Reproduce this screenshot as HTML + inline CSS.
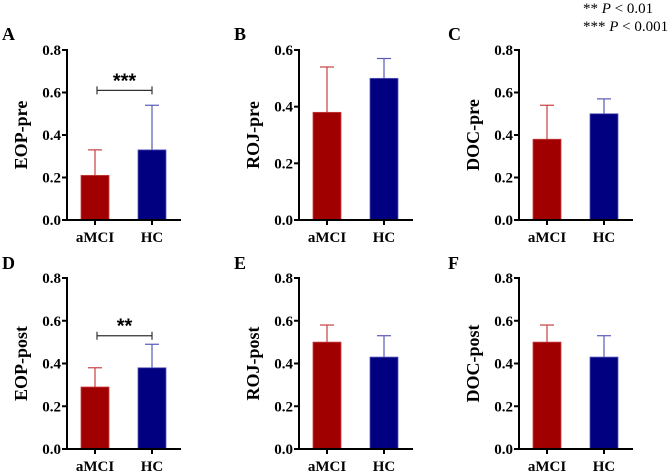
<!DOCTYPE html>
<html><head><meta charset="utf-8"><style>
body{margin:0;background:#fff}
svg{display:block;font-family:"Liberation Serif",serif}
</style></head><body>
<svg id="c" width="669" height="474">
<text x="583" y="13" font-size="15">** <tspan font-style="italic">P</tspan> &lt; 0.01</text>
<text x="583" y="31" font-size="15">*** <tspan font-style="italic">P</tspan> &lt; 0.001</text>
</svg>
<script>
const categories=["aMCI","HC"];
const panelLetters=["A","B","C","D","E","F"];
const yTitles=["EOP-pre","ROJ-pre","DOC-pre","EOP-post","ROJ-post","DOC-post"];
const meanValues=[[0.21,0.33],[0.38,0.50],[0.38,0.50],[0.29,0.38],[0.50,0.43],[0.50,0.43]];
const errTops=[[0.33,0.54],[0.54,0.57],[0.54,0.57],[0.38,0.49],[0.58,0.53],[0.58,0.53]];
const yMaxes=[0.8,0.6,0.8,0.8,0.8,0.8];
const tickLabels=[["0.0","0.2","0.4","0.6","0.8"],["0.0","0.2","0.4","0.6"],["0.0","0.2","0.4","0.6","0.8"],["0.0","0.2","0.4","0.6","0.8"],["0.0","0.2","0.4","0.6","0.8"],["0.0","0.2","0.4","0.6","0.8"]];
const sigMarks=["***","","","**","",""];
const sigHeights=[0.61,0,0,0.53,0,0];
const svg=document.getElementById('c');
const NS='http://www.w3.org/2000/svg';
function mk(t,a,txt){const e=document.createElementNS(NS,t);for(const k in a)e.setAttribute(k,a[k]);if(txt!==undefined)e.textContent=txt;svg.appendChild(e);return e;}
const fills=["#a00000","#000080"],errC=["#c84040","#5a5ab8"];
for(let p=0;p<6;p++){
  const ax=[67,299,519][p%3], y0=p<3?220:449, yTop=p<3?50:278, w=114;
  const ymax=yMaxes[p];
  const Y=v=>y0-(v/ymax)*(y0-yTop);
  const X=i=>ax+28+i*57;
  let e=mk('text',{x:[2,234,448][p%3],y:y0-180,'font-size':18,'font-weight':'bold'},panelLetters[p]);
  
  e=mk('text',{transform:`translate(${ax-40},${(y0+yTop)/2}) rotate(-90)`,'text-anchor':'middle','font-size':18,'font-weight':'bold'},yTitles[p]);
  
  tickLabels[p].forEach(t=>{const v=parseFloat(t);
    e=mk('line',{x1:ax-5,x2:ax,y1:Y(v),y2:Y(v),stroke:'#000','stroke-width':2});
    
    e=mk('text',{x:ax-6,y:Y(v)+5,'text-anchor':'end','font-size':15,'font-weight':'bold'},t);
    });
  categories.forEach((c,i)=>{
    const cx=X(i);
    e=mk('line',{x1:cx,x2:cx,y1:Y(errTops[p][i]),y2:Y(meanValues[p][i]),stroke:errC[i],'stroke-width':1.2});
    
    e=mk('line',{x1:cx-7,x2:cx+7,y1:Y(errTops[p][i]),y2:Y(errTops[p][i]),stroke:errC[i],'stroke-width':1.2});
    
    e=mk('rect',{x:cx-14,y:Y(meanValues[p][i]),width:28,height:y0-Y(meanValues[p][i]),fill:fills[i],stroke:errC[i],'stroke-width':0.8});
    
    e=mk('line',{x1:cx,x2:cx,y1:y0,y2:y0+5,stroke:'#000','stroke-width':2});
    
    e=mk('text',{x:cx,y:y0+22,'text-anchor':'middle','font-size':15,'font-weight':'bold'},c);
    
  });
  e=mk('line',{x1:ax,x2:ax,y1:yTop-1,y2:y0+1,stroke:'#000','stroke-width':2});
  
  e=mk('line',{x1:ax-1,x2:ax+w,y1:y0,y2:y0,stroke:'#000','stroke-width':2});
  
  if(sigMarks[p]){
    const by=Y(sigHeights[p]);
    e=mk('path',{d:`M${X(0)+2} ${by-4}V${by+4}M${X(0)+2} ${by}H${X(1)}M${X(1)} ${by-4}V${by+4}`,stroke:'#333',fill:'none','stroke-width':1.2});
    
    e=mk('text',{x:(X(0)+X(1))/2+1,y:by-3,'text-anchor':'middle','font-size':20,'font-weight':'bold','font-family':'Liberation Sans, sans-serif'},sigMarks[p]);
    
  }
}
</script>
</body></html>
